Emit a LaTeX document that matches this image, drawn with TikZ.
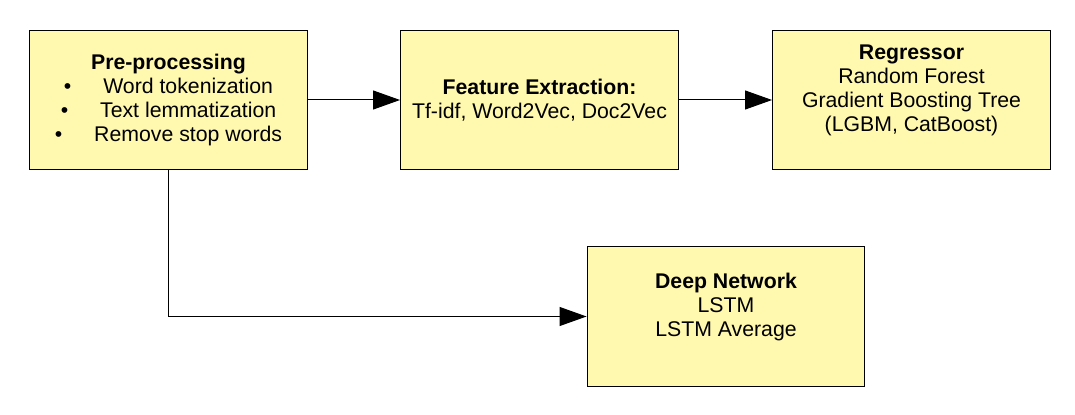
\documentclass[tikz,border=0pt]{standalone}
\usepackage{fontspec}
\setmainfont{Liberation Sans}
\usetikzlibrary{arrows.meta}
\definecolor{boxyellow}{RGB}{255,248,175}

\begin{document}
\begin{tikzpicture} [x=0.02cm, y=-0.02cm,
                every node/.style={rectangle, draw=black, fill=boxyellow, line width=0.02cm,
                    minimum width=5.56cm, minimum height=2.8cm, align=center,
                    font=\fontsize{12.1pt}{13.66pt}\selectfont},
                arrow_style/.style={draw=black, line width=0.02cm, -{Triangle[length=0.54cm,width=0.38cm]}}]
                \useasboundingbox (0,0) rectangle (1075,415);
                \node (pre) at (168.5,100) {\textbf{Pre-processing}\\
                    •\hspace{1.5em}Word tokenization\\
                    •\hspace{1.5em}Text lemmatization\\
                    •\hspace{1.5em}Remove stop words};
                \node (feat) at (539.5,100) {\textbf{Feature Extraction:}\\Tf-idf, Word2Vec, Doc2Vec};
                \node (reg) at (911.5,100) {\textbf{Regressor}\\Random Forest\\Gradient Boosting Tree\\(LGBM, CatBoost)\\\mbox{}};
                \node (deep) at (726,316.5) {\textbf{Deep Network}\\LSTM\\LSTM Average\\\mbox{}};
                \draw [arrow_style] (pre) edge (feat);
                \draw [arrow_style] (feat) edge (reg);
                \draw [arrow_style] (pre.south) |- (deep.west);
            \end{tikzpicture}
\end{document}
